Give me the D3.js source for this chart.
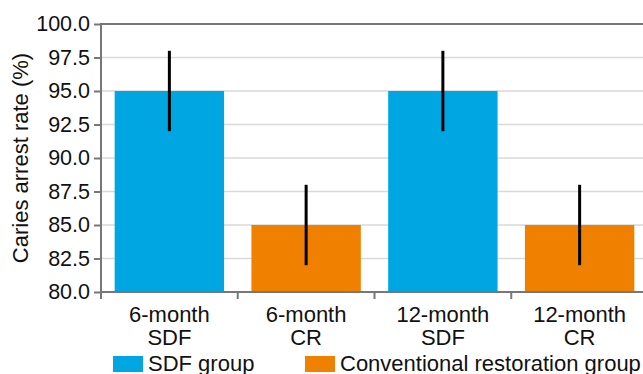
<!DOCTYPE html>
<html>
<head>
<meta charset="utf-8">
<script src="https://cdn.jsdelivr.net/npm/d3@7"></script>
<style>
  body { margin: 0; background: #fff; }
  text { font-family: "Liberation Sans", Arial, sans-serif; fill: #111; }
</style>
</head>
<body>
<script>
// data
var categories = ["6-month\nSDF", "6-month\nCR", "12-month\nSDF", "12-month\nCR"];
var rates = [95.0, 85.0, 95.0, 85.0];
var errLow = [92.0, 82.0, 92.0, 82.0];
var errHigh = [98.0, 88.0, 98.0, 88.0];
var groups = [0, 1, 0, 1];
var legendLabels = ["SDF group", "Conventional restoration group"];
var yTicks = [80, 82.5, 85, 87.5, 90, 92.5, 95, 97.5, 100];

var colors = ["#00a6e2", "#f08000"];

var W = 643, H = 374;
var pLeft = 101, pTop = 24, pRight = 648, pBottom = 292;
var fs = "22px";

var svg = d3.select("body").append("svg")
    .attr("width", W).attr("height", H);

var x = d3.scaleBand().domain(d3.range(categories.length))
    .range([pLeft, pRight]).paddingInner(0.2).paddingOuter(0.1);
var xb = d3.scaleBand().domain(d3.range(categories.length))
    .range([pLeft, pRight]);
var y = d3.scaleLinear().domain([80, 100]).range([pBottom, pTop]);

// gridlines
svg.append("g").selectAll("line")
    .data(yTicks.slice(1, -1))
    .enter().append("line")
    .attr("x1", pLeft).attr("x2", W)
    .attr("y1", d => y(d)).attr("y2", d => y(d))
    .attr("stroke", "#d9d9d9").attr("stroke-width", 1.5);

// bars
svg.selectAll(".bar")
    .data(rates)
    .enter().append("rect")
    .attr("x", (d, i) => x(i))
    .attr("width", x.bandwidth())
    .attr("y", d => y(d))
    .attr("height", d => y(80) - y(d))
    .attr("fill", (d, i) => colors[groups[i]]);

// error bars
svg.selectAll(".err")
    .data(rates)
    .enter().append("line")
    .attr("x1", (d, i) => x(i) + x.bandwidth() / 2)
    .attr("x2", (d, i) => x(i) + x.bandwidth() / 2)
    .attr("y1", (d, i) => y(errLow[i]))
    .attr("y2", (d, i) => y(errHigh[i]))
    .attr("stroke", "#000").attr("stroke-width", 3);

// top border
svg.append("line")
    .attr("x1", pLeft).attr("x2", W)
    .attr("y1", pTop).attr("y2", pTop)
    .attr("stroke", "#777").attr("stroke-width", 2);

// y axis
var yAxis = svg.append("g")
    .attr("transform", "translate(" + pLeft + ",0)")
    .call(d3.axisLeft(y).tickValues(yTicks).tickFormat(d3.format(".1f")).tickSize(7).tickPadding(4));
yAxis.select(".domain").remove();
yAxis.selectAll(".tick line").attr("stroke", "#777").attr("stroke-width", 2);
yAxis.selectAll("text").attr("font-size", "21.5px").attr("fill", "#111")
    .attr("font-family", "Liberation Sans, Arial, sans-serif");
svg.append("line")
    .attr("x1", pLeft).attr("x2", pLeft)
    .attr("y1", pTop - 1).attr("y2", pBottom + 7)
    .attr("stroke", "#777").attr("stroke-width", 2);

// x axis
svg.append("line")
    .attr("x1", pLeft).attr("x2", W)
    .attr("y1", pBottom).attr("y2", pBottom)
    .attr("stroke", "#777").attr("stroke-width", 2);
svg.append("g").selectAll("line")
    .data(d3.range(1, categories.length))
    .enter().append("line")
    .attr("x1", d => xb(d)).attr("x2", d => xb(d))
    .attr("y1", pBottom).attr("y2", pBottom + 7)
    .attr("stroke", "#777").attr("stroke-width", 2);

var xl = svg.append("g").selectAll("text")
    .data(categories)
    .enter().append("text")
    .attr("text-anchor", "middle")
    .attr("font-size", fs)
    .attr("x", (d, i) => x(i) + x.bandwidth() / 2)
    .attr("y", 322);
xl.each(function(d) {
    var parts = d.split("\n");
    var t = d3.select(this);
    parts.forEach(function(p, k) {
        t.append("tspan")
            .attr("x", t.attr("x"))
            .attr("dy", k === 0 ? 0 : 23)
            .text(p);
    });
});

// y title
svg.append("text")
    .attr("transform", "translate(28," + ((pTop + pBottom) / 2) + ") rotate(-90)")
    .attr("text-anchor", "middle")
    .attr("font-size", fs)
    .text("Caries arrest rate (%)");

// legend
var legX = [113, 305];
var leg = svg.append("g").selectAll("g")
    .data(legendLabels)
    .enter().append("g")
    .attr("transform", (d, i) => "translate(" + legX[i] + ",356)");
leg.append("rect")
    .attr("width", 30).attr("height", 16)
    .attr("fill", (d, i) => colors[i]);
leg.append("text")
    .attr("x", 35).attr("y", 15)
    .attr("font-size", fs)
    .text(d => d);
</script>
</body>
</html>
